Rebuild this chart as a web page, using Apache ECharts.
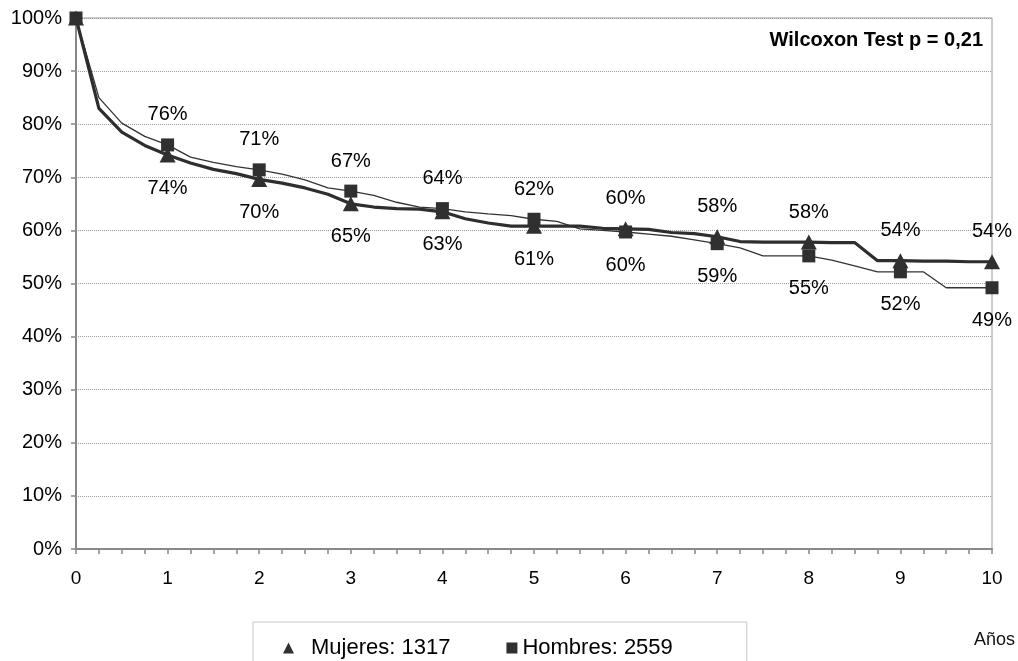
<!DOCTYPE html>
<html>
<head>
<meta charset="utf-8">
<script src="https://cdn.jsdelivr.net/npm/echarts@6/dist/echarts.min.js"></script>
<style>
html,body{margin:0;padding:0;background:#fff;}
#chart{width:1018px;height:661px;}
</style>
</head>
<body>
<div id="chart"></div>
<script>
// ---- data ----
const xYears = [0,0.25,0.5,0.75,1,1.25,1.5,1.75,2,2.25,2.5,2.75,3,3.25,3.5,3.75,4,4.25,4.5,4.75,5,5.25,5.5,5.75,6,6.25,6.5,6.75,7,7.25,7.5,7.75,8,8.25,8.5,8.75,9,9.25,9.5,9.75,10];
const mujeres = [100,83,78.5,76,74.2,72.7,71.5,70.7,69.6,68.9,68,66.8,65,64.4,64.1,64,63.5,62.2,61.4,60.8,60.8,60.8,60.8,60.4,60.3,60.2,59.6,59.4,58.8,57.9,57.8,57.8,57.8,57.7,57.7,54.3,54.3,54.2,54.2,54.1,54.1];
const hombres = [100,85,80.2,77.7,76.1,73.8,72.8,72,71.4,70.6,69.5,68,67.4,66.6,65.3,64.4,64.1,63.5,63.1,62.8,62.1,61.7,60.3,60,59.7,59.3,58.9,58.2,57.5,56.7,55.2,55.2,55.2,54.4,53.3,52.2,52.2,52.2,49.2,49.2,49.2];
const labelYears = [1,2,3,4,5,6,7,8,9,10];
const mujeresLabels = ['74%','70%','65%','63%','61%','60%','58%','58%','54%','54%'];
const hombresLabels = ['76%','71%','67%','64%','62%','60%','59%','55%','52%','49%'];
const seriesNames = ['Mujeres: 1317','Hombres: 2559'];
const xTicks = [0,1,2,3,4,5,6,7,8,9,10];
const yTicks = [0,10,20,30,40,50,60,70,80,90,100];
const annotation = 'Wilcoxon Test p = 0,21';
const xAxisTitle = 'Años';

// ---- build ----
const FONT = 'Liberation Sans, Arial, sans-serif';
function linePairs(vals){ return xYears.map((x,i)=>[x, vals[i]]); }
function markerData(vals, other, labels){
  const out = [];
  xYears.forEach((x,i)=>{
    if (!Number.isInteger(x)) return;
    const li = labelYears.indexOf(x);
    const item = {value:[x, vals[i]]};
    if (li >= 0) {
      const above = vals[i] > other[i];
      item.label = {show:true, formatter: labels[li], offset:[0, above ? -30 : 33]};
    } else {
      item.label = {show:false};
    }
    out.push(item);
  });
  return out;
}

const chart = echarts.init(document.getElementById('chart'), null, {renderer:'canvas'});
const option = {
  backgroundColor:'#fff',
  animation:false,
  textStyle:{fontFamily:FONT},
  grid:{left:76, right:26, top:18, bottom:112, show:true, borderColor:'#9a9a9a', borderWidth:1},
  xAxis:{
    type:'value', min:0, max:10, interval:1,
    axisLine:{show:true, onZero:false, lineStyle:{color:'#888', width:2}},
    axisTick:{show:true, length:5, lineStyle:{color:'#888', width:1.5}},
    minorTick:{show:true, splitNumber:4, length:5, lineStyle:{color:'#888', width:1.5}},
    splitLine:{show:false},
    axisLabel:{fontSize:19, color:'#000', margin:20, fontFamily:FONT,
      formatter:(v)=> xTicks.includes(v) ? String(v) : ''}
  },
  yAxis:{
    type:'value', min:0, max:100, interval:10,
    axisLine:{show:true, lineStyle:{color:'#888', width:2}},
    axisTick:{show:true, length:5, lineStyle:{color:'#888', width:1.5}},
    splitLine:{show:true, lineStyle:{color:'#9a9a9a', type:'dotted', width:1}},
    axisLabel:{fontSize:20, color:'#000', margin:14, fontFamily:FONT,
      formatter:(v)=> yTicks.includes(v) ? v + '%' : ''}
  },
  legend:{
    data:[
      {name:seriesNames[0], icon:'triangle', itemStyle:{opacity:1}, textStyle:{padding:[0,0,0,12]}},
      {name:seriesNames[1], icon:'rect', itemStyle:{opacity:1}, textStyle:{padding:[0,0,0,0]}}
    ],
    left:253, top:622,
    orient:'horizontal',
    itemWidth:11, itemHeight:11, itemGap:56,
    padding:[15,74,30,30],
    borderColor:'#c8c8c8', borderWidth:1,
    textStyle:{fontSize:22, color:'#000', fontFamily:FONT}
  },
  graphic:[
    {type:'text', right:35, top:30, style:{text:annotation, font:'bold 20px ' + FONT, fill:'#000', textAlign:'right'}},
    {type:'text', right:3, top:631, style:{text:xAxisTitle, font:'18px ' + FONT, fill:'#111'}}
  ],
  series:[
    {name:'Mujeres línea', type:'line', data:linePairs(mujeres), symbol:'none', z:3,
      lineStyle:{color:'#2e2e2e', width:3.2}, itemStyle:{color:'#2e2e2e'}},
    {name:'Hombres línea', type:'line', data:linePairs(hombres), symbol:'none', z:2,
      lineStyle:{color:'#333', width:1.3}, itemStyle:{color:'#333'}},
    {name:seriesNames[0], type:'scatter', symbol:'triangle', symbolSize:[16,15], z:5,
      itemStyle:{color:'#303030', opacity:1},
      label:{show:true, position:'inside', fontSize:20, color:'#000', opacity:1, fontFamily:FONT},
      data:markerData(mujeres, hombres, mujeresLabels)},
    {name:seriesNames[1], type:'scatter', symbol:'rect', symbolSize:13, z:4,
      itemStyle:{color:'#303030', opacity:1},
      label:{show:true, position:'inside', fontSize:20, color:'#000', opacity:1, fontFamily:FONT},
      data:markerData(hombres, mujeres, hombresLabels)}
  ]
};
chart.setOption(option);
</script>
</body>
</html>
